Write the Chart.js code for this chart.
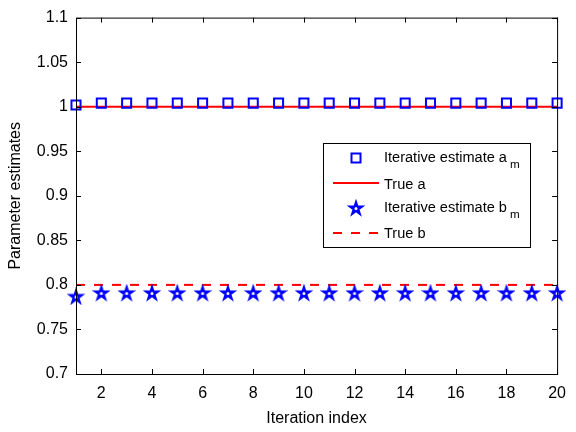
<!DOCTYPE html>
<html>
<head>
<meta charset="utf-8">
<script src="https://cdn.jsdelivr.net/npm/chart.js@4/dist/chart.umd.min.js"></script>
<style>
  html, body { margin: 0; padding: 0; background: #fff; }
  #wrap { width: 576px; height: 432px; }
</style>
</head>
<body>
<div id="wrap"><canvas id="estChart" width="576" height="432"></canvas></div>
<script>
const iterations = [1, 2, 3, 4, 5, 6, 7, 8, 9, 10, 11, 12, 13, 14, 15, 16, 17, 18, 19, 20];
const estimateA = [1.002, 1.004, 1.004, 1.004, 1.004, 1.004, 1.004, 1.004, 1.004, 1.004,
  1.004, 1.004, 1.004, 1.004, 1.004, 1.004, 1.004, 1.004, 1.004, 1.004];
const estimateB = [0.787, 0.791, 0.791, 0.791, 0.791, 0.791, 0.791, 0.791, 0.791, 0.791,
  0.791, 0.791, 0.791, 0.791, 0.791, 0.791, 0.791, 0.791, 0.791, 0.791];
const trueA = 1.0;
const trueB = 0.8;
const xTickValues = [2, 4, 6, 8, 10, 12, 14, 16, 18, 20];
const yTickValues = [0.7, 0.75, 0.8, 0.85, 0.9, 0.95, 1, 1.05, 1.1];
const legendEntries = [
  { text: 'Iterative estimate a', sub: 'm' },
  { text: 'True a', sub: '' },
  { text: 'Iterative estimate b', sub: 'm' },
  { text: 'True b', sub: '' },
];

const FONT = "'Liberation Sans', Arial, sans-serif";
const BLUE = '#0000ff';
const RED = '#ff0000';

// pentagram marker, drawn once on a small canvas
function starPath(g, cx, cy, R, r) {
  g.beginPath();
  for (let i = 0; i < 10; i++) {
    const ang = -Math.PI / 2 + i * Math.PI / 5;
    const rad = i % 2 === 0 ? R : r;
    const px = cx + rad * Math.cos(ang);
    const py = cy + rad * Math.sin(ang);
    if (i === 0) g.moveTo(px, py); else g.lineTo(px, py);
  }
  g.closePath();
}

function makeStar(size) {
  const c = document.createElement('canvas');
  c.width = size;
  c.height = size;
  const g = c.getContext('2d');
  const cx = size / 2, cy = size / 2 + 0.6;
  const R = size / 2 - 1.5;
  starPath(g, cx, cy, R, R * 0.382);
  g.fillStyle = BLUE;
  g.fill();
  g.strokeStyle = BLUE;
  g.lineWidth = 1.5;
  g.stroke();
  // small hollow centre
  g.fillStyle = '#fff';
  g.beginPath();
  for (let i = 0; i < 5; i++) {
    const ang = Math.PI / 2 + i * 2 * Math.PI / 5;
    const px = cx + 1.7 * Math.cos(ang);
    const py = cy + 1.7 * Math.sin(ang);
    if (i === 0) g.moveTo(px, py); else g.lineTo(px, py);
  }
  g.closePath();
  g.fill();
  return c;
}
const starImg = makeStar(18);

function drawLegend(ctx) {
  const box = { left: 323, top: 143, right: 530, bottom: 247 };
  const rowY = [158, 183, 208, 233];
  const baseY = [162, 189, 212, 238];
  ctx.fillStyle = '#fff';
  ctx.fillRect(box.left, box.top, box.right - box.left, box.bottom - box.top);
  ctx.strokeStyle = '#000';
  ctx.lineWidth = 1;
  ctx.strokeRect(box.left + 0.5, box.top + 0.5, box.right - box.left, box.bottom - box.top);

  // samples
  ctx.strokeStyle = BLUE;
  ctx.lineWidth = 2;
  ctx.strokeRect(351.5, rowY[0] - 4.5, 9, 9);

  ctx.strokeStyle = RED;
  ctx.beginPath();
  ctx.moveTo(333, rowY[1]);
  ctx.lineTo(379, rowY[1]);
  ctx.stroke();

  ctx.drawImage(starImg, 356 - starImg.width / 2, rowY[2] - starImg.height / 2);

  ctx.setLineDash([9, 9]);
  ctx.beginPath();
  ctx.moveTo(333, rowY[3]);
  ctx.lineTo(379, rowY[3]);
  ctx.stroke();
  ctx.setLineDash([]);

  // size the legend font so the long label spans ~123px as in the original
  ctx.font = '15px ' + FONT;
  const w15 = ctx.measureText(legendEntries[0].text).width;
  const size = Math.min(16, 15 * 123 / w15);

  ctx.fillStyle = '#000';
  ctx.textBaseline = 'alphabetic';
  ctx.textAlign = 'left';
  legendEntries.forEach((e, i) => {
    ctx.font = size + 'px ' + FONT;
    ctx.fillText(e.text, 384, baseY[i]);
    if (e.sub) {
      const w = ctx.measureText(e.text).width;
      ctx.font = (size * 0.8) + 'px ' + FONT;
      ctx.fillText(e.sub, 384 + w + 3, baseY[i] + 6);
    }
  });
}

const frameAndLegend = {
  id: 'frameAndLegend',
  afterDatasetsDraw(chart) {
    const { ctx, chartArea: a, scales } = chart;
    const x = scales.x, y = scales.y;
    ctx.save();
    ctx.strokeStyle = '#000';
    ctx.lineWidth = 1;
    ctx.strokeRect(a.left + 0.5, a.top + 0.5, a.right - a.left, a.bottom - a.top);
    ctx.beginPath();
    for (const v of xTickValues) {
      const px = Math.round(x.getPixelForValue(v)) + 0.5;
      ctx.moveTo(px, a.bottom); ctx.lineTo(px, a.bottom - 5);
      ctx.moveTo(px, a.top); ctx.lineTo(px, a.top + 5);
    }
    for (const v of yTickValues) {
      const py = Math.round(y.getPixelForValue(v)) + 0.5;
      ctx.moveTo(a.left, py); ctx.lineTo(a.left + 5, py);
      ctx.moveTo(a.right, py); ctx.lineTo(a.right - 5, py);
    }
    ctx.stroke();
    drawLegend(ctx);
    ctx.restore();
  },
};

function initEstimateChart() {
  const canvas = document.getElementById('estChart');
  if (typeof Chart === 'undefined') return;

  Chart.defaults.font.family = FONT;
  Chart.defaults.font.size = 16;
  Chart.defaults.color = '#000';

  const first = iterations[0];
  const last = iterations[iterations.length - 1];

  // eslint-disable-next-line no-new
  new Chart(canvas, {
    type: 'scatter',
    data: {
      datasets: [
        {
          label: 'Iterative estimate a_m',
          data: iterations.map((it, i) => ({ x: it, y: estimateA[i] })),
          pointStyle: 'rect',
          pointRadius: 6.4,
          borderColor: BLUE,
          backgroundColor: 'rgba(0,0,0,0)',
          borderWidth: 2,
          clip: false,
          order: 1,
        },
        {
          label: 'True a',
          type: 'line',
          data: [{ x: first, y: trueA }, { x: last, y: trueA }],
          borderColor: RED,
          borderWidth: 2,
          pointRadius: 0,
          order: 2,
        },
        {
          label: 'Iterative estimate b_m',
          data: iterations.map((it, i) => ({ x: it, y: estimateB[i] })),
          pointStyle: starImg,
          borderColor: BLUE,
          backgroundColor: BLUE,
          clip: false,
          order: 1,
        },
        {
          label: 'True b',
          type: 'line',
          data: [{ x: first, y: trueB }, { x: last, y: trueB }],
          borderColor: RED,
          borderWidth: 2,
          borderDash: [9, 9],
          pointRadius: 0,
          order: 2,
        },
      ],
    },
    options: {
      responsive: false,
      animation: false,
      events: [],
      layout: { padding: { top: 10, right: 11, left: 0, bottom: 0 } },
      plugins: {
        legend: { display: false },
        tooltip: { enabled: false },
      },
      scales: {
        x: {
          type: 'linear',
          min: 1,
          max: 20,
          grid: { display: false, drawTicks: false },
          border: { display: false },
          afterBuildTicks(scale) {
            scale.ticks = xTickValues.map((v) => ({ value: v }));
          },
          afterFit(scale) {
            scale.height = 58;
          },
          ticks: {
            autoSkip: false,
            maxRotation: 0,
            padding: 10,
            font: { size: 16 },
            color: '#000',
          },
          title: {
            display: true,
            text: 'Iteration index',
            font: { size: 16 },
            color: '#000',
            padding: { top: 0, bottom: 4 },
          },
        },
        y: {
          type: 'linear',
          min: 0.7,
          max: 1.1,
          grid: { display: false, drawTicks: false },
          border: { display: false },
          afterBuildTicks(scale) {
            scale.ticks = yTickValues.map((v) => ({ value: v }));
          },
          afterFit(scale) {
            scale.width = 76;
          },
          ticks: {
            padding: 8,
            font: { size: 16 },
            color: '#000',
            callback: (v) => String(Number(Number(v).toFixed(2))),
          },
          title: {
            display: true,
            text: 'Parameter estimates',
            font: { size: 16 },
            color: '#000',
            padding: { top: 6, bottom: 0 },
          },
        },
      },
    },
    plugins: [frameAndLegend],
  });
}

document.addEventListener('DOMContentLoaded', initEstimateChart);
</script>
</body>
</html>
